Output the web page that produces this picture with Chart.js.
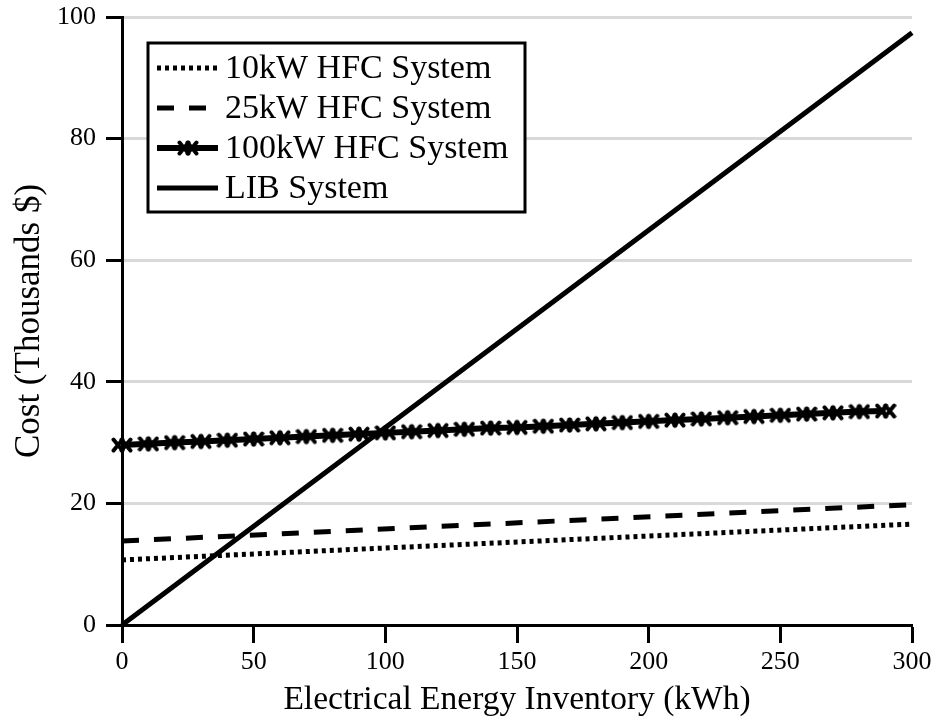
<!DOCTYPE html>
<html>
<head>
<meta charset="utf-8">
<script src="https://cdn.jsdelivr.net/npm/chart.js@4.4.1/dist/chart.umd.min.js"></script>
<style>
  html, body { margin: 0; padding: 0; background: #fff; }
  #wrap { width: 946px; height: 720px; }
</style>
</head>
<body>
<div id="wrap"><canvas id="costChart" width="946" height="720"></canvas></div>
<script>
// values
const seriesNames = ["10kW HFC System", "25kW HFC System", "100kW HFC System", "LIB System"];

const energy10kW = [0, 300];
const cost10kW = [10.7, 16.6];

const energy25kW = [0, 300];
const cost25kW = [13.8, 19.8];

const energy100kW = [0, 10, 20, 30, 40, 50, 60, 70, 80, 90, 100, 110, 120, 130, 140,
                     150, 160, 170, 180, 190, 200, 210, 220, 230, 240, 250, 260, 270, 280, 290];
const cost100kW = [29.6, 29.8, 30.0, 30.2, 30.4, 30.6, 30.8, 31.0, 31.2, 31.4, 31.6, 31.8, 32.0, 32.2, 32.4,
                   32.5, 32.7, 32.9, 33.1, 33.3, 33.5, 33.7, 33.9, 34.1, 34.3, 34.5, 34.7, 34.9, 35.1, 35.2];

const energyLIB = [0, 300];
const costLIB = [0, 97.4];

const xTicks = [0, 50, 100, 150, 200, 250, 300];
const yTicks = [0, 20, 40, 60, 80, 100];

const serif = "'Liberation Serif', 'DejaVu Serif', serif";

const toPoints = (xs, ys) => xs.map((x, i) => ({ x, y: ys[i] }));

// double cross marker like the one on the 100kW curve
function doubleCross() {
    const c = document.createElement("canvas");
    c.width = 22; c.height = 18;
    const g = c.getContext("2d");
    g.strokeStyle = "#000";
    g.lineWidth = 4;
    g.lineCap = "round";
    [7, 15].forEach(cx => {
        g.beginPath();
        g.moveTo(cx - 4.5, 9 - 5.5); g.lineTo(cx + 4.5, 9 + 5.5);
        g.moveTo(cx - 4.5, 9 + 5.5); g.lineTo(cx + 4.5, 9 - 5.5);
        g.stroke();
    });
    return c;
}
const marker = doubleCross();

// boxed legend drawn inside the plot
const boxLegend = {
    id: "boxLegend",
    afterDatasetsDraw(chart) {
        const ctx = chart.ctx;
        const x0 = 148, y0 = 43, w = 377, h = 169;
        ctx.save();
        ctx.fillStyle = "#fff";
        ctx.fillRect(x0, y0, w, h);
        ctx.strokeStyle = "#000";
        ctx.lineWidth = 3;
        ctx.strokeRect(x0, y0, w, h);
        ctx.font = "34px " + serif;
        ctx.textBaseline = "middle";
        ctx.fillStyle = "#000";
        chart.data.datasets.forEach((ds, i) => {
            const cy = 68 + i * 40;
            ctx.beginPath();
            ctx.lineWidth = ds.borderWidth;
            ctx.setLineDash(ds.borderDash || []);
            ctx.moveTo(157, cy);
            ctx.lineTo(218, cy);
            ctx.stroke();
            ctx.setLineDash([]);
            if (ds.pointRadius > 0) ctx.drawImage(marker, 188 - 11, cy - 9);
            ctx.fillText(ds.label, 225, cy + 1);
        });
        ctx.restore();
    }
};

new Chart(document.getElementById("costChart"), {
    type: "line",
    data: {
        datasets: [
            { label: seriesNames[0], data: toPoints(energy10kW, cost10kW), borderColor: "#000",
              borderWidth: 5, borderDash: [4, 4], pointRadius: 0 },
            { label: seriesNames[1], data: toPoints(energy25kW, cost25kW), borderColor: "#000",
              borderWidth: 5, borderDash: [17, 15], pointRadius: 0 },
            { label: seriesNames[2], data: toPoints(energy100kW, cost100kW), borderColor: "#000",
              borderWidth: 6, pointStyle: marker, pointRadius: 8 },
            { label: seriesNames[3], data: toPoints(energyLIB, costLIB), borderColor: "#000",
              borderWidth: 5, pointRadius: 0 },
        ]
    },
    options: {
        responsive: false,
        animation: false,
        clip: false,
        layout: { padding: { top: 17, right: 34, left: 0, bottom: 0 } },
        plugins: { legend: { display: false }, tooltip: { enabled: false } },
        scales: {
            x: {
                type: "linear", min: 0, max: 300,
                afterBuildTicks: s => { s.ticks = xTicks.map(v => ({ value: v })); },
                afterFit: s => { s.height = 95; s.paddingLeft = 0; s.paddingRight = 0; },
                grid: { drawOnChartArea: false, tickLength: 18, tickColor: "#000", tickWidth: 3 },
                border: { color: "#000", width: 3 },
                ticks: { color: "#000", font: { family: serif, size: 26 }, padding: 4 },
                title: { display: true, text: "Electrical Energy Inventory (kWh)", color: "#000",
                         font: { family: serif, size: 33.5 }, padding: { bottom: 0 } }
            },
            y: {
                min: 0, max: 100,
                afterBuildTicks: s => { s.ticks = yTicks.map(v => ({ value: v })); },
                afterFit: s => { s.width = 122; s.paddingTop = 0; s.paddingBottom = 0; },
                grid: { color: "#d9d9d9", lineWidth: 3, tickLength: 16, tickColor: "#000", tickWidth: 3 },
                border: { color: "#000", width: 3 },
                ticks: { color: "#000", font: { family: serif, size: 26 }, padding: 10 },
                title: { display: true, text: "Cost (Thousands $)", color: "#000",
                         font: { family: serif, size: 35 }, padding: { top: 9 } }
            }
        }
    },
    plugins: [boxLegend]
});
</script>
</body>
</html>
